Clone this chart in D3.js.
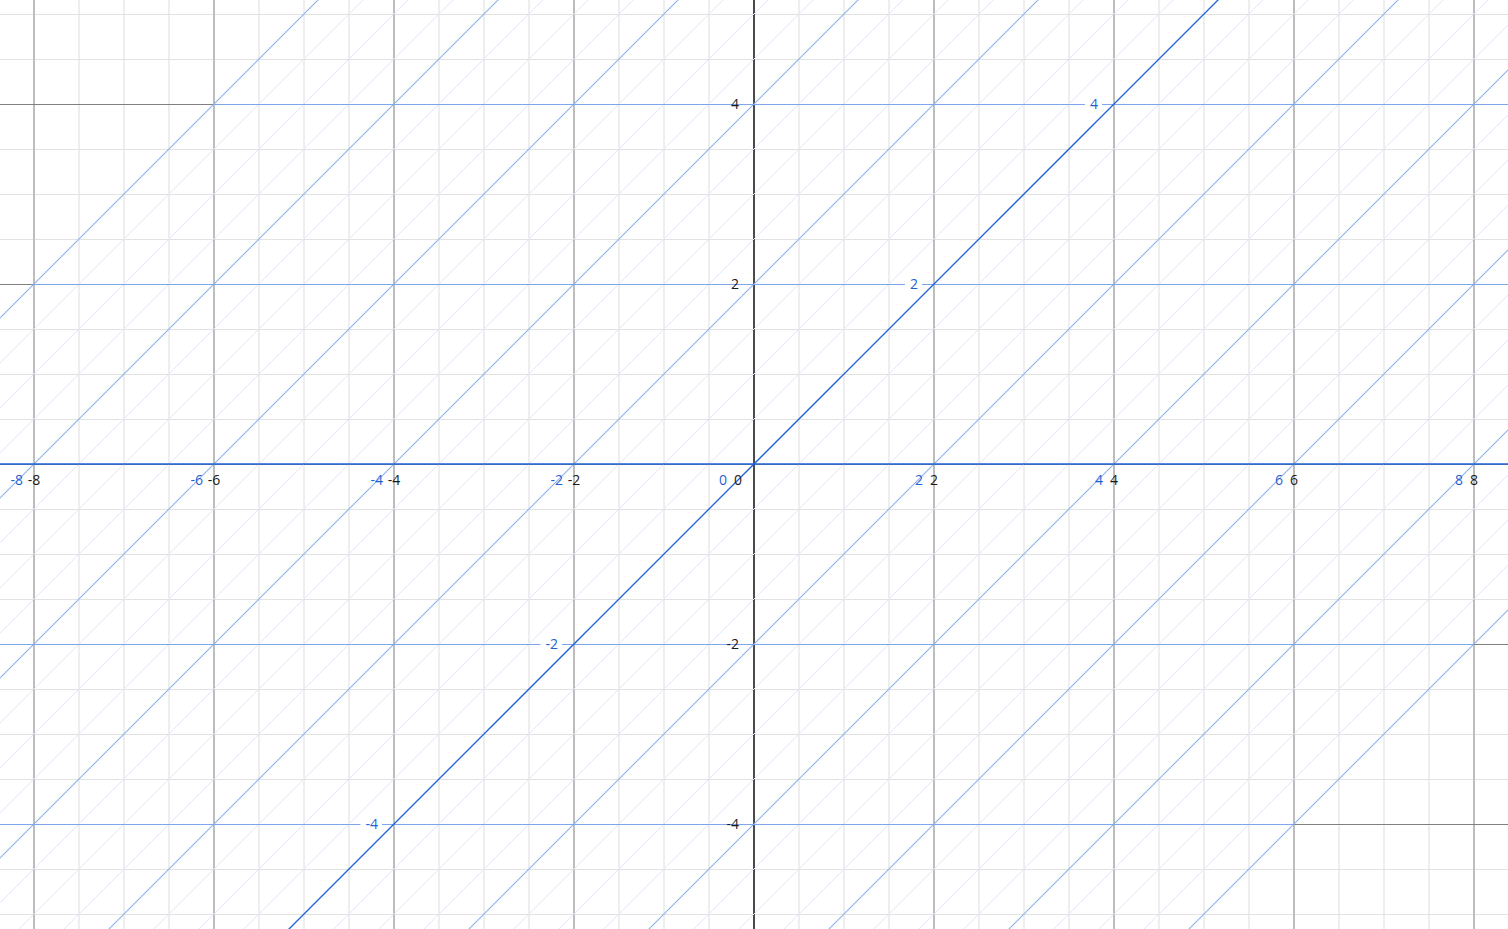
<!DOCTYPE html>
<html><head><meta charset="utf-8">
<script src="https://cdn.jsdelivr.net/npm/d3@7"></script>
<style>html,body{margin:0;padding:0;background:#fff;overflow:hidden}svg{display:block}</style>
</head><body>
<svg id="c" width="1508" height="929"></svg>
<script>
// Cartesian axis ticks
const xTicks = [-8, -6, -4, -2, 2, 4, 6, 8];
const yTicks = [-4, -2, 2, 4];
// Oblique (skewed) system: basis e1=(1,0), e2=(1,1)
const uLabels = [-8, -6, -4, -2, 0, 2, 4, 6, 8];   // along horizontal axis
const vLabels = [-4, -2, 2, 4];                    // along diagonal axis
const uRange = [-10, 10];
const majorStep = 2, minorStep = 0.5;

const W = 1508, H = 929;
const x = d3.scaleLinear().domain([-754/90, (W-754)/90]).range([0, W]);
const y = d3.scaleLinear().domain([-(H-464)/90, 464/90]).range([H, 0]);
const svg = d3.select("#c");
const font = "'Open Sans', 'DejaVu Sans', sans-serif";

const seq = (a,b,s)=>d3.range(Math.ceil(a/s)*s, b+1e-9, s).map(v=>+v.toFixed(6));
const [x0,x1] = x.domain(), [y0,y1] = y.domain();

// gray minor grid
const g = svg.append("g").attr("shape-rendering","crispEdges");
seq(x0,x1,minorStep).filter(v=>Math.abs(v%majorStep)>1e-6).forEach(v=>{
  g.append("line").attr("x1",x(v)).attr("x2",x(v)).attr("y1",0).attr("y2",H)
   .attr("stroke","#eeeeee").attr("stroke-width",2);
});
seq(y0,y1,minorStep).filter(v=>Math.abs(v%majorStep)>1e-6).forEach(v=>{
  g.append("line").attr("y1",y(v)+0.5).attr("y2",y(v)+0.5).attr("x1",0).attr("x2",W)
   .attr("stroke","#e2e2e2").attr("stroke-width",1);
});
// gray major grid
seq(x0,x1,majorStep).filter(v=>v!==0).forEach(v=>{
  g.append("line").attr("x1",x(v)).attr("x2",x(v)).attr("y1",0).attr("y2",H)
   .attr("stroke","#bdbdbd").attr("stroke-width",2);
});
seq(y0,y1,majorStep).forEach(v=>{
  g.append("line").attr("y1",y(v)+0.5).attr("y2",y(v)+0.5).attr("x1",0).attr("x2",W)
   .attr("stroke","#808080").attr("stroke-width",1);
});
// y-axis
g.append("line").attr("x1",x(0)).attr("x2",x(0)).attr("y1",0).attr("y2",H)
 .attr("stroke","#4a4a4a").attr("stroke-width",2);

// oblique grid
const ob = svg.append("g");
const P = (u,v)=>[x(u+v), y(v)];
const vExt = [-7, 7];
// minor diagonals
seq(uRange[0],uRange[1],minorStep).filter(u=>Math.abs(u%majorStep)>1e-6).forEach(u=>{
  const a=P(u,vExt[0]), b=P(u,vExt[1]);
  ob.append("line").attr("x1",a[0]).attr("y1",a[1]).attr("x2",b[0]).attr("y2",b[1])
    .attr("stroke","#dde8fa").attr("stroke-width",1);
});
// major diagonals
seq(uRange[0],uRange[1],majorStep).filter(u=>u!==0).forEach(u=>{
  const a=P(u,vExt[0]), b=P(u,vExt[1]);
  ob.append("line").attr("x1",a[0]).attr("y1",a[1]).attr("x2",b[0]).attr("y2",b[1])
    .attr("stroke","#8db1ec").attr("stroke-width",1.1);
});
// major horizontals (constant v)
seq(-6,6,majorStep).filter(v=>v!==0).forEach(v=>{
  const a=P(uRange[0],v), b=P(uRange[1],v);
  ob.append("line").attr("x1",a[0]).attr("y1",a[1]+0.5).attr("x2",b[0]).attr("y2",b[1]+0.5)
    .attr("stroke","#7da6ec").attr("stroke-width",1).attr("shape-rendering","crispEdges");
});
// oblique axes
const blue = "#1f63d3";
{ const a=P(uRange[0],0), b=P(uRange[1],0);
  ob.append("line").attr("x1",a[0]).attr("y1",a[1]).attr("x2",b[0]).attr("y2",b[1])
    .attr("stroke",blue).attr("stroke-width",1.6);
  const c=P(0,vExt[0]), d=P(0,vExt[1]);
  ob.append("line").attr("x1",c[0]).attr("y1",c[1]).attr("x2",d[0]).attr("y2",d[1])
    .attr("stroke",blue).attr("stroke-width",1.3);
}

// labels
const L = svg.append("g").attr("font-family",font).attr("font-size",14);
xTicks.concat([0]).forEach(v=>{
  L.append("text").attr("x", v===0 ? x(0)-16 : x(v)).attr("y", y(0)+21)
   .attr("text-anchor","middle").attr("fill","#1a1a1a").text(v);
});
yTicks.forEach(v=>{
  L.append("text").attr("x", x(0)-15).attr("y", y(v)).attr("dy","0.36em")
   .attr("text-anchor","end").attr("fill","#1a1a1a").text(v);
});
uLabels.forEach(u=>{
  const p=P(u,0);
  L.append("text").attr("x", u===0 ? p[0]-27 : p[0]-11).attr("y", p[1]+21)
   .attr("text-anchor","end").attr("fill",blue).text(u);
});
vLabels.forEach(v=>{
  const p=P(0,v);
  const t = L.append("text").attr("x", p[0]-16).attr("y", p[1]).attr("dy","0.36em")
   .attr("text-anchor","end").attr("fill",blue).text(v);
  const bb = t.node().getBBox();
  L.insert("rect", () => t.node()).attr("x", bb.x-5).attr("y", p[1]-3).attr("width", bb.width+9).attr("height", 6)
   .attr("fill","#fff");
});
</script>
</body></html>
